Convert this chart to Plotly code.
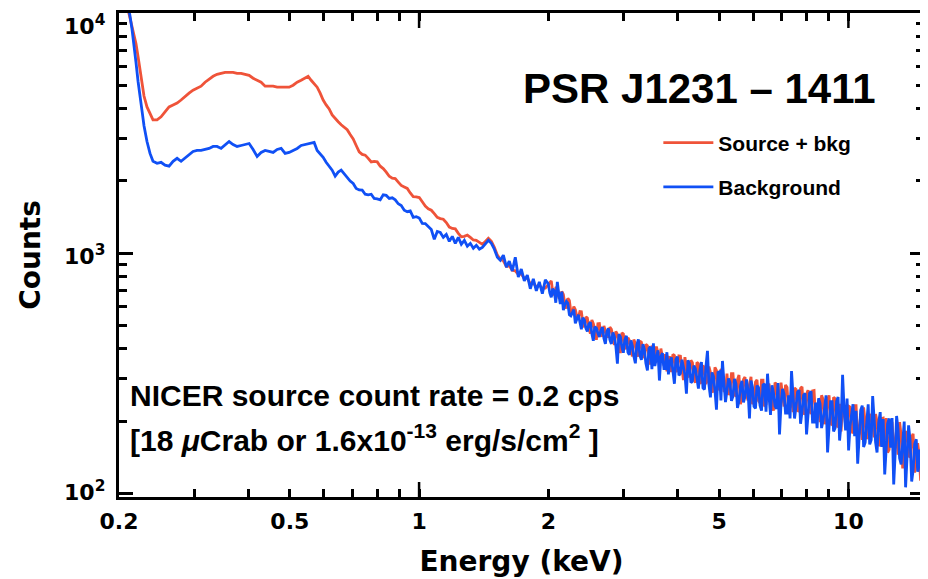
import math
import plotly.graph_objects as go

# ---- data: energy grid (keV), split in three segments ----
energy_low = [0.210, 0.212, 0.2144, 0.2168, 0.2191, 0.2215, 0.2239, 0.2263, 0.2287,
              0.2324, 0.2362, 0.2400,
              0.2453, 0.2506, 0.2560, 0.2616, 0.2673, 0.2731, 0.2790, 0.2850, 0.2912, 0.2975,
              0.3040, 0.3106, 0.3173, 0.3242, 0.3313, 0.3384, 0.3458, 0.3533, 0.3610, 0.3688,
              0.3768, 0.3850, 0.3933, 0.4019, 0.4106, 0.4195, 0.4286, 0.4379, 0.4474, 0.4571,
              0.4671, 0.4772, 0.4875, 0.4981, 0.5089, 0.5200, 0.5312, 0.5428,
              0.5516, 0.5605, 0.5696, 0.5789, 0.5883, 0.5978, 0.6075, 0.6174, 0.6274, 0.6376,
              0.6480, 0.6585, 0.6692, 0.6801, 0.6911, 0.7023, 0.7137, 0.7253, 0.7371, 0.7491,
              0.7612, 0.7736, 0.7861, 0.7989, 0.8119, 0.8251, 0.8385, 0.8521, 0.8660, 0.8800,
              0.8943, 0.9088, 0.9236, 0.9386, 0.9538, 0.9693, 0.9850, 1.0010, 1.0173, 1.0338,
              1.0506, 1.0677, 1.0850, 1.1026, 1.1204, 1.1387, 1.1572, 1.1760, 1.1951, 1.2145,
              1.2343, 1.2543, 1.2747, 1.2954, 1.3164, 1.3378, 1.3595, 1.3816, 1.4040, 1.4268,
              1.4500, 1.4735, 1.4974, 1.5218]
energy_mid = [1.5459, 1.5716, 1.5971, 1.6223, 1.6486, 1.6754, 1.7026, 1.7302, 1.7583, 1.7869,
              1.8158, 1.8454, 1.8754, 1.9059, 1.9369, 1.9683]
energy_high = [2.000, 2.016, 2.032, 2.048, 2.065, 2.082, 2.099, 2.116, 2.133, 2.150,
               2.168, 2.186, 2.203, 2.221, 2.239, 2.257, 2.275, 2.293, 2.312, 2.331,
               2.350, 2.369, 2.388, 2.407, 2.427, 2.447, 2.466, 2.486, 2.506, 2.526,
               2.546, 2.567, 2.588, 2.609, 2.630, 2.651, 2.673, 2.695, 2.716, 2.738,
               2.760, 2.782, 2.805, 2.828, 2.850, 2.873, 2.897, 2.920, 2.944, 2.968,
               2.991, 3.015, 3.040, 3.065, 3.089, 3.114, 3.139, 3.164, 3.190, 3.216,
               3.242, 3.268, 3.295, 3.322, 3.348, 3.375, 3.403, 3.431, 3.458, 3.486,
               3.514, 3.542, 3.571, 3.600, 3.629, 3.658, 3.688, 3.718, 3.748, 3.778,
               3.809, 3.840, 3.870, 3.901, 3.933, 3.965, 3.997, 4.029, 4.062, 4.095,
               4.128, 4.161, 4.195, 4.229, 4.263, 4.297, 4.332, 4.367, 4.403, 4.439,
               4.474, 4.510, 4.547, 4.584, 4.621, 4.658, 4.696, 4.734, 4.772, 4.811,
               4.849, 4.888, 4.928, 4.968, 5.008, 5.048, 5.089, 5.130, 5.172, 5.214,
               5.256, 5.298, 5.341, 5.384, 5.428, 5.472, 5.516, 5.561, 5.606, 5.651,
               5.697, 5.743, 5.789, 5.836, 5.883, 5.931, 5.979, 6.027, 6.076, 6.125,
               6.175, 6.225, 6.275, 6.326, 6.377, 6.429, 6.480, 6.532, 6.585, 6.638,
               6.692, 6.746, 6.801, 6.856, 6.911, 6.967, 7.024, 7.081, 7.138, 7.196,
               7.254, 7.313, 7.371, 7.431, 7.491, 7.552, 7.613, 7.675, 7.736, 7.799,
               7.862, 7.926, 7.989, 8.054, 8.119, 8.185, 8.251, 8.318, 8.385, 8.453,
               8.521, 8.590, 8.660, 8.730, 8.800, 8.871, 8.943, 9.015, 9.088, 9.161,
               9.236, 9.311, 9.386, 9.462, 9.538, 9.615, 9.693, 9.771, 9.850, 9.930,
               10.01, 10.09, 10.17, 10.25, 10.34, 10.42, 10.51, 10.59, 10.68, 10.77,
               10.85, 10.94, 11.03, 11.12, 11.21, 11.30, 11.39, 11.48, 11.57, 11.66,
               11.76, 11.86, 11.95, 12.05, 12.15, 12.25, 12.34, 12.44, 12.54, 12.64,
               12.75, 12.85, 12.95, 13.05, 13.16, 13.27, 13.38, 13.49, 13.59, 13.70,
               13.81, 13.92, 14.04, 14.15, 14.27, 14.39, 14.50, 14.62, 14.73, 14.85,
               14.97]

# ---- Source + bkg counts ----
source_low = [10300, 9620, 8836, 8191, 7451, 6588, 5824, 5101, 4510,
              4064, 3803, 3593,
              3593, 3696, 3876, 4064, 4141, 4220, 4342, 4510, 4640, 4774,
              4865, 4958, 5150, 5298, 5451, 5555, 5608, 5661, 5661, 5661,
              5608, 5608, 5555, 5503, 5350, 5248, 5150, 4958, 4958, 4958,
              4911, 4911, 4911, 4911, 5005, 5150, 5248, 5350,
              5451, 5248, 5101, 4911, 4640, 4342, 4141, 3987, 3767, 3627,
              3526, 3427, 3330, 3268, 3117, 2990, 2808, 2640, 2579, 2560,
              2483, 2400, 2413, 2400, 2302, 2250, 2175, 2090, 2054, 2045,
              1978, 1915, 1887, 1860, 1782, 1720, 1716, 1705, 1637, 1570,
              1532, 1510, 1461, 1410, 1393, 1385, 1341, 1285, 1267, 1262,
              1209, 1170, 1175, 1190, 1164, 1135, 1131, 1110, 1089, 1120,
              1153, 1120, 1058, 981]
source_mid = [944, 930, 880, 885, 850, 845, 815, 820, 785, 790, 745, 750, 725, 735, 715, 715]
source_high = [739, 754, 767, 690, 669, 717, 721, 654, 653, 693,
               674, 611, 588, 649, 635, 570, 560, 600, 582, 543,
               539, 571, 570, 513, 492, 543, 537, 486, 463, 527,
               509, 474, 436, 508, 509, 457, 451, 498, 478, 450,
               450, 492, 482, 436, 415, 472, 460, 429, 384, 466,
               461, 406, 400, 445, 433, 396, 372, 437, 420, 388,
               371, 431, 426, 375, 367, 417, 412, 370, 344, 412,
               391, 350, 409, 384, 342, 401, 370, 341, 380, 322,
               369, 368, 320, 379, 375, 323, 324, 374, 373, 322,
               296, 369, 341, 305, 311, 358, 350, 300, 289, 351,
               347, 287, 291, 341, 331, 285, 297, 337, 319, 277,
               263, 335, 325, 269, 276, 329, 325, 267, 265, 315,
               257, 264, 315, 315, 259, 253, 297, 311, 235, 253,
               298, 305, 259, 244, 284, 306, 235, 244, 291, 297,
               243, 238, 296, 296, 230, 235, 279, 286, 257, 238,
               221, 289, 285, 230, 238, 289, 259, 230, 283, 276,
               220, 230, 272, 218, 275, 271, 221, 220, 274, 278,
               213, 218, 259, 269, 221, 214, 267, 268, 205, 216,
               244, 198, 256, 246, 194, 207, 244, 256, 198, 192,
               251, 248, 189, 192, 236, 181, 246, 217, 193, 190,
               231, 229, 183, 178, 232, 232, 166, 179, 212, 167,
               228, 198, 169, 173, 214, 207, 192, 171, 214, 199,
               158, 160, 205, 206, 167, 206, 148, 152, 196, 196,
               156, 156, 185, 145, 198, 174, 127, 153, 180, 180,
               143, 142, 172, 177, 122, 134, 162, 144, 113, 123,
               96]

# ---- Background counts ----
background_low = [10600, 9806, 8589, 7451, 6224, 5199, 4596, 3913, 3394,
                  2917, 2603, 2413,
                  2368, 2390, 2324, 2302, 2413, 2483, 2413, 2483, 2555, 2653,
                  2678, 2678, 2704, 2730, 2782, 2782, 2730, 2835, 2917, 2835,
                  2782, 2808, 2835, 2862, 2704, 2530, 2628, 2678, 2653, 2628,
                  2704, 2730, 2603, 2628, 2678, 2730, 2808, 2835,
                  2862, 2890, 2890, 2678, 2603, 2507, 2390, 2302, 2216, 2094,
                  2175, 2216, 2134, 2074, 1997, 1950, 1860, 1834, 1830, 1760,
                  1749, 1760, 1690, 1684, 1668, 1749, 1740, 1690, 1700, 1668,
                  1606, 1580, 1510, 1489, 1500, 1410, 1420, 1400, 1330, 1329,
                  1292, 1255, 1142, 1232, 1220, 1164, 1197, 1120, 1175, 1099,
                  1164, 1089, 1131, 1069, 1099, 1049, 1079, 1039, 1058, 1099,
                  1131, 1099, 1039, 962]
background_mid = [935, 981, 875, 927, 843, 962, 796, 859, 767, 811, 711, 782, 697, 759, 678, 774]
background_high = [746, 683, 656, 711, 696, 622, 760, 674, 615, 692,
                   580, 612, 630, 618, 554, 548, 571, 582, 511, 528,
                   554, 517, 482, 539, 527, 487, 472, 507, 516, 463,
                   432, 494, 488, 465, 448, 476, 492, 442, 419, 473,
                   486, 437, 419, 468, 450, 410, 347, 460, 448, 406,
                   385, 436, 453, 387, 377, 433, 412, 372, 348, 416,
                   438, 375, 360, 418, 397, 348, 325, 401, 408, 329,
                   421, 339, 365, 394, 295, 371, 384, 331, 331, 387,
                   313, 355, 368, 323, 286, 361, 371, 310, 316, 360,
                   336, 313, 260, 358, 347, 289, 293, 340, 330, 292,
                   273, 326, 352, 275, 271, 337, 392, 282, 251, 319,
                   307, 269, 223, 319, 321, 244, 356, 291, 240, 268,
                   301, 290, 243, 254, 300, 286, 227, 243, 280, 294,
                   239, 253, 298, 269, 205, 295, 277, 230, 226, 281,
                   276, 232, 221, 283, 286, 219, 315, 254, 212, 282,
                   261, 231, 225, 288, 176, 236, 272, 259, 216, 216,
                   256, 205, 323, 255, 205, 231, 264, 269, 195, 219,
                   256, 261, 176, 212, 261, 266, 198, 198, 239, 187,
                   249, 237, 187, 201, 234, 256, 148, 185, 241, 241,
                   181, 187, 242, 252, 166, 195, 312, 226, 183, 248,
                   151, 191, 219, 235, 173, 221, 133, 179, 222, 232,
                   156, 163, 203, 235, 160, 167, 254, 192, 163, 148,
                   197, 218, 156, 204, 120, 155, 195, 205, 155, 206,
                   109, 146, 210, 185, 140, 132, 171, 199, 106, 142,
                   192, 167, 112, 125, 161, 168, 123, 152, 126, 113,
                   92]

# ---- axis ticks ----
x_tick_vals = [0.2, 0.5, 1, 2, 5, 10]
x_tick_text = ["0.2", "0.5", "1", "2", "5", "10"]
x_minor_vals = [0.3, 0.4, 0.6, 0.7, 0.8, 0.9, 3, 4, 6, 7, 8, 9]
x_decade_vals = [1, 10]
y_decade_vals = [100, 1000, 10000]
y_decade_text = ["10<sup>2</sup>", "10<sup>3</sup>", "10<sup>4</sup>"]
y_minor_vals = [200, 300, 400, 500, 600, 700, 800, 900,
                2000, 3000, 4000, 5000, 6000, 7000, 8000, 9000]

energy = energy_low + energy_mid + energy_high
source_counts = source_low + source_mid + source_high
background_counts = background_low + background_mid + background_high

RED = "#EF5339"
BLUE = "#1050F5"
AXFONT = "DejaVu Sans"
TXFONT = "Liberation Sans"

fig = go.Figure()
fig.add_trace(go.Scatter(x=energy, y=source_counts, mode="lines", name="Source + bkg",
                         legendgroup="s", line=dict(color=RED, width=2.8)))
fig.add_trace(go.Scatter(x=energy, y=background_counts, mode="lines", name="Background",
                         legendgroup="b", line=dict(color=BLUE, width=2.8)))

xr = [math.log10(0.2), math.log10(15.0)]
yr = [1.985, 4.0]

# the page body adds an 8 px offset, so the figure is 8 px smaller than the window
fig.update_layout(
    width=920, height=571,
    margin=dict(l=111, r=4, t=5, b=82, autoexpand=False),
    paper_bgcolor="white", plot_bgcolor="white",
    showlegend=True,
    legend=dict(x=0.670, y=0.774, xanchor="left", yanchor="top",
                bgcolor="rgba(0,0,0,0)", tracegroupgap=14, itemwidth=50,
                font=dict(family=TXFONT, size=21, color="black", weight="bold")),
    xaxis=dict(type="log", range=xr, automargin=False, showline=True, linecolor="black",
               linewidth=3, mirror="allticks", ticks="inside", ticklen=8, tickwidth=2.5,
               tickcolor="black", tickmode="array", tickvals=x_tick_vals, ticktext=x_tick_text,
               tickfont=dict(family=AXFONT, size=22, color="black", weight="bold"),
               ticklabelstandoff=3,
               minor=dict(tickmode="array", tickvals=x_minor_vals, ticks="inside", ticklen=8,
                          tickwidth=2.5, tickcolor="black", showgrid=False),
               showgrid=False, zeroline=False,
               title=dict(text="Energy (keV)", standoff=18,
                          font=dict(family=AXFONT, size=28, color="black", weight="bold"))),
    yaxis=dict(type="log", range=yr, automargin=False, showline=True, linecolor="black",
               linewidth=3, mirror="allticks", ticks="inside", ticklen=14, tickwidth=2.5,
               tickcolor="black", tickmode="array", tickvals=y_decade_vals, showticklabels=False,
               minor=dict(tickmode="array", tickvals=y_minor_vals, ticks="inside", ticklen=8,
                          tickwidth=2.5, tickcolor="black", showgrid=False),
               showgrid=False, zeroline=False,
               title=dict(text="Counts", standoff=68,
                          font=dict(family=AXFONT, size=28, color="black", weight="bold"))),
)

# longer tick marks at the decades 1 and 10 keV (bottom and top frame)
for v in x_decade_vals:
    fig.add_shape(type="line", xref="x", yref="paper", x0=v, x1=v, y0=0, y1=0.031,
                  line=dict(color="black", width=2.5))
    fig.add_shape(type="line", xref="x", yref="paper", x0=v, x1=v, y0=1, y1=0.969,
                  line=dict(color="black", width=2.5))

# y decade labels as text next to the axis
shifts = [2, -2, -12]
for val, txt, sh in zip(y_decade_vals, y_decade_text, shifts):
    fig.add_annotation(x=0, xref="paper", y=math.log10(val), yref="y", text=txt,
                       showarrow=False, xanchor="right", yanchor="middle", xshift=-12, yshift=sh,
                       font=dict(family=AXFONT, size=22, color="black", weight="bold"))

fig.add_annotation(x=0.7217, xref="paper", y=0.845, yref="paper", text="PSR J1231 \u2013 1411",
                   showarrow=False, xanchor="center", yanchor="middle",
                   font=dict(family=TXFONT, size=42, color="black", weight="bold"))
fig.add_annotation(x=0.011, xref="paper", y=0.209, yref="paper",
                   text="NICER source count rate = 0.2 cps",
                   showarrow=False, xanchor="left", yanchor="middle",
                   font=dict(family=TXFONT, size=30, color="black", weight="bold"))
fig.add_annotation(x=0.011, xref="paper", y=0.121, yref="paper",
                   text="[18 <i>\u03bc</i>Crab or 1.6x10<sup>-13</sup> erg/s/cm<sup>2</sup> ]",
                   showarrow=False, xanchor="left", yanchor="middle",
                   font=dict(family=TXFONT, size=30, color="black", weight="bold"))

fig.write_html("out.html")
